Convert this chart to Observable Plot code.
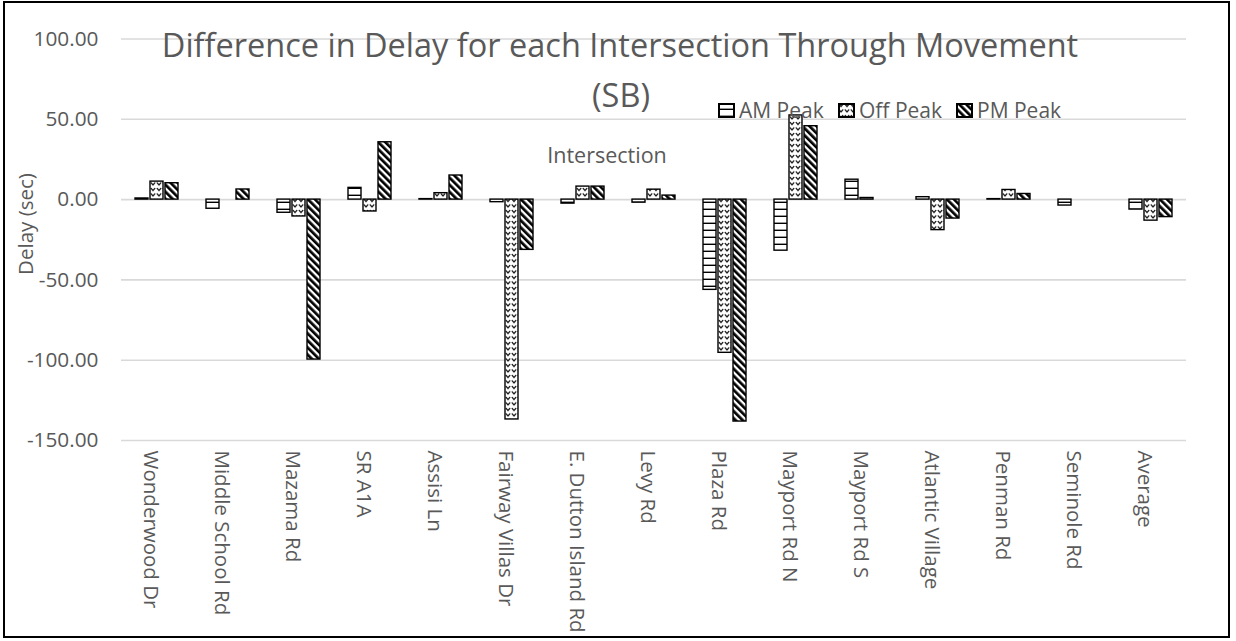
<!DOCTYPE html>
<html>
<head>
<meta charset="utf-8">
<script src="https://cdn.jsdelivr.net/npm/d3@7"></script>
<script src="https://cdn.jsdelivr.net/npm/@observablehq/plot@0.6"></script>
<style>
  html, body { margin: 0; padding: 0; background: white; }
  #wrap { position: relative; width: 1236px; height: 641px; font-family: "Open Sans", sans-serif; color: #595959; overflow: hidden; }
  #frame { position: absolute; left: 3px; top: 1px; width: 1227px; height: 637px; border: 2px solid #000; box-sizing: border-box; pointer-events: none; }
  .lbl { position: absolute; white-space: nowrap; line-height: 1; }
  #chart { position: absolute; left: 0; top: 0; }
  .leg { position: absolute; top: 96px; display: flex; align-items: center; font-size: 21px; }
  .leg svg { margin-right: 4px; }
</style>
</head>
<body>
<svg width="0" height="0" style="position:absolute">
  <defs>
    <pattern id="pAM" patternUnits="userSpaceOnUse" width="8" height="7">
      <rect width="8" height="7" fill="white"/>
      <rect y="5.6" width="8" height="1.4" fill="black"/>
    </pattern>
    <pattern id="pOff" patternUnits="userSpaceOnUse" width="6" height="5.5">
      <rect width="6" height="5.5" fill="white"/>
      <path d="M0.8,1 L3,3.4 L5.2,1" stroke="black" stroke-width="1.2" fill="none"/>
    </pattern>
    <pattern id="pPM" patternUnits="userSpaceOnUse" width="5" height="5" patternTransform="rotate(-45)">
      <rect width="5" height="5" fill="white"/>
      <rect width="2.7" height="5" fill="black"/>
    </pattern>
  </defs>
</svg>
<div id="wrap">
  <div id="chart"></div>
  <div id="frame"></div>
</div>
<script>
const categories = ["Wonderwood Dr","Middle School Rd","Mazama Rd","SR A1A","Assisi Ln","Fairway Villas Dr","E. Dutton Island Rd","Levy Rd","Plaza Rd","Mayport Rd N","Mayport Rd S","Atlantic Village","Penman Rd","Seminole Rd","Average"];
const seriesNames = ["AM Peak","Off Peak","PM Peak"];
const amPeak  = [0.7, -5.7, -8.2, 7.3, 0.3, -1.6, -2.5, -1.9, -56.2, -31.8, 12.4, 1.5, 0.3, -3.7, -6.2];
const offPeak = [11.2, 0, -10.5, -7.4, 4.0, -136.9, 8.1, 6.2, -95.4, 52.4, 1.0, -19.0, 6.0, 0, -13.1];
const pmPeak  = [10.2, 6.3, -99.6, 35.7, 15.0, -31.3, 8.1, 2.5, -138.2, 45.7, 0, -11.8, 3.5, 0, -10.9];
const yTicks = [-150, -100, -50, 0, 50, 100];
const title1 = "Difference in Delay for each Intersection Through Movement";
const title2 = "(SB)";
const xTitle = "Intersection";
const yTitle = "Delay (sec)";

const valuesBySeries = [amPeak, offPeak, pmPeak];
const patternIds = ["pAM", "pOff", "pPM"];
const rows = s => categories.map((c, i) => ({cat: c, series: seriesNames[s], value: valuesBySeries[s][i]}));

const chart = Plot.plot({
  width: 1236,
  height: 641,
  marginTop: 38.5,
  marginBottom: 201,
  marginLeft: 121,
  marginRight: 50,
  style: {fontFamily: "'Open Sans', sans-serif", color: "#595959", background: "transparent"},
  fx: {domain: categories, padding: 0, label: null},
  x: {domain: seriesNames, paddingInner: 0.16, paddingOuter: 0.87, axis: null},
  y: {domain: [-150, 100], label: null},
  marks: [
    Plot.gridY(yTicks, {stroke: "#d9d9d9", strokeOpacity: 1, strokeWidth: 1.6}),
    ...[0, 1, 2].map(s => Plot.barY(rows(s), {
      fx: "cat", x: "series", y: "value",
      fill: `url(#${patternIds[s]})`, stroke: "black", strokeWidth: 1.4
    })),
    Plot.axisY({ticks: yTicks, tickFormat: d => d.toFixed(2), tickSize: 0, tickPadding: 23, fontSize: 20.8, label: null, fill: "#595959"}),
    Plot.axisFx({anchor: "bottom", tickRotate: 90, tickSize: 0, tickPadding: 10, dx: -6, fontSize: 20.5, label: null, fill: "#595959"})
  ]
});
document.getElementById("chart").appendChild(chart);

const wrap = document.getElementById("wrap");
function addLabel(text, css) {
  const d = document.createElement("div");
  d.className = "lbl";
  d.textContent = text;
  Object.assign(d.style, css);
  wrap.appendChild(d);
  return d;
}
addLabel(title1, {left: "620px", top: "29px", fontSize: "32.5px", transform: "translateX(-50%)"});
addLabel(title2, {left: "621px", top: "79px", fontSize: "32.5px", transform: "translateX(-50%)"});
addLabel(xTitle, {left: "607px", top: "144px", fontSize: "21.5px", transform: "translateX(-50%)"});
addLabel(yTitle, {left: "25px", top: "224px", fontSize: "20.5px", transform: "translate(-50%,-50%) rotate(-90deg)"});

const legendX = [718, 838, 956];
seriesNames.forEach((name, s) => {
  const d = document.createElement("div");
  d.className = "leg";
  d.style.left = legendX[s] + "px";
  d.innerHTML = `<svg width="17" height="15"><rect x="1" y="1" width="15" height="13" fill="url(#${patternIds[s]})" stroke="black" stroke-width="2"/></svg><span></span>`;
  d.querySelector("span").textContent = name;
  wrap.appendChild(d);
});
</script>
</body>
</html>
